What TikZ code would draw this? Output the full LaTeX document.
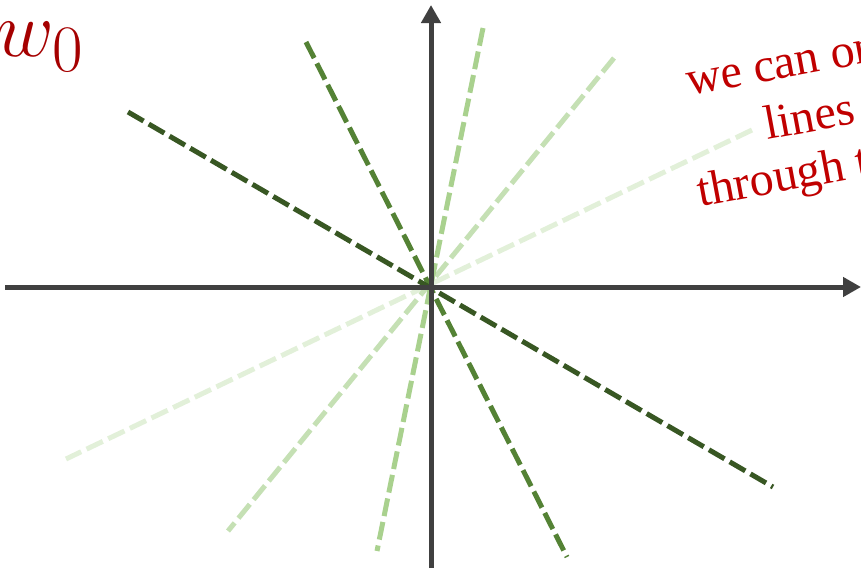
\documentclass[tikz,border=0pt]{standalone}
\usepackage{fontspec}
\newfontfamily\serifsub{Liberation Serif}
\usetikzlibrary{arrows.meta}
\definecolor{axisgray}{HTML}{404040}
\definecolor{gA}{HTML}{385723}
\definecolor{gB}{HTML}{548235}
\definecolor{gC}{HTML}{A9D18E}
\definecolor{gD}{HTML}{C5E0B4}
\definecolor{gE}{HTML}{E2F0D9}
\definecolor{redtext}{HTML}{C00000}
\definecolor{darkred}{HTML}{A50000}
\tikzset{
  axisline/.style={draw=axisgray, line width=5pt, -{Triangle[length=18pt,width=19pt]}},
  dline/.style={line width=5pt, dash pattern=on 18pt off 6pt},
  note/.style={text=redtext, font=\serifsub\fontsize{48}{56}\selectfont, anchor=base west, rotate=10.5, inner sep=0pt}
}
\begin{document}
\begin{tikzpicture}[x=1pt,y=-1pt]
\useasboundingbox (0,0) rectangle (861,568);
\clip (0,0) rectangle (861,568);
\coordinate (O) at (431,287);
% line end points
\coordinate (e1a) at (752,130); \coordinate (e1b) at (66,459);
\coordinate (d1a) at (614,58);  \coordinate (d1b) at (228,531);
\coordinate (c1a) at (483,28);  \coordinate (c1b) at (377,551);
\coordinate (b1a) at (306,42);  \coordinate (b1b) at (567,557);
\coordinate (a1a) at (128,112); \coordinate (a1b) at (773,487);
\draw[dline, gE] (e1a) -- (e1b);
\draw[dline, gD] (d1a) -- (d1b);
\draw[dline, gC] (c1a) -- (c1b);
\draw[dline, gB] (b1a) -- (b1b);
\draw[dline, gA] (a1a) -- (a1b);
% axes
\coordinate (xl) at (5,287);   \coordinate (xr) at (861,287);
\coordinate (yb) at (431,568); \coordinate (yt) at (431,5);
\draw[axisline] (xl) -- (xr);
\draw[axisline] (yb) -- (yt);
% labels
\node[text=darkred, anchor=base west, inner sep=0pt, font=\Huge, scale=3.2] (w) at (-4,56) {$w_0$};
\node[note] (t1) at (689,96) {we can only draw};
\node[note] (t2) at (767,140) {lines that go};
\node[note] (t3) at (700,207) {through the origin};
\end{tikzpicture}
\end{document}
